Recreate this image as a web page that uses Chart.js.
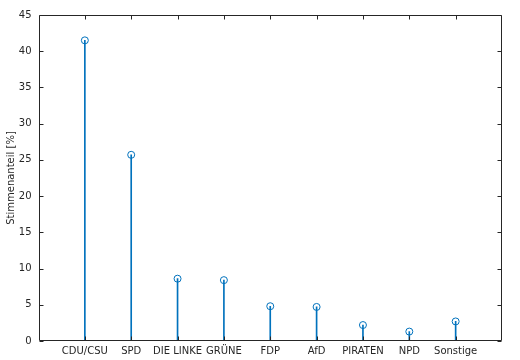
<!DOCTYPE html>
<html><head><meta charset="utf-8">
<script src="https://cdn.jsdelivr.net/npm/chart.js@4"></script>
<style>html,body{margin:0;padding:0;background:#fff}#w{width:520px;height:360px}</style>
</head><body><div id="w"><canvas id="c" width="520" height="360"></canvas></div>
<script>
const categories = ["CDU/CSU","SPD","DIE LINKE","GRÜNE","FDP","AfD","PIRATEN","NPD","Sonstige"];
const shares = [41.5, 25.7, 8.6, 8.4, 4.8, 4.7, 2.2, 1.3, 2.7];
const yTicks = [0,5,10,15,20,25,30,35,40,45];

const blue = '#0072BD', ink = '#262626';
const pts = categories.map((c,i)=>({x:i+1,y:shares[i]}));

const frame = {
  id:'frame',
  afterDraw(chart){
    const {ctx, chartArea:a, scales:{x,y}} = chart;
    ctx.save();
    ctx.strokeStyle = ink; ctx.lineWidth = 1;
    ctx.beginPath();
    const L=Math.round(a.left)+0.5, R=Math.round(a.right)-0.5, T=Math.round(a.top)+0.5, B=Math.round(a.bottom)-0.5;
    ctx.rect(L,T,R-L,B-T);
    const tl=4;
    categories.forEach((c,i)=>{const px=Math.round(x.getPixelForValue(i+1))+0.5;
      ctx.moveTo(px,B);ctx.lineTo(px,B-tl);ctx.moveTo(px,T);ctx.lineTo(px,T+tl);});
    yTicks.forEach(v=>{const py=Math.round(y.getPixelForValue(v))+0.5;
      ctx.moveTo(L,py);ctx.lineTo(L+tl,py);ctx.moveTo(R,py);ctx.lineTo(R-tl,py);});
    ctx.stroke();
    ctx.restore();
  }
};

new Chart(document.getElementById('c'),{
  data:{datasets:[
    {type:'bar',data:pts,backgroundColor:blue,borderWidth:0,barThickness:1,order:2},
    {type:'scatter',data:pts,pointStyle:'circle',pointRadius:3.5,pointBorderWidth:1,pointBorderColor:blue,pointBackgroundColor:'rgba(0,0,0,0)',showLine:false,order:1}
  ]},
  options:{
    responsive:false,animation:false,
    layout:{padding:{left:0,top:15,right:18,bottom:0}},
    plugins:{legend:{display:false},tooltip:{enabled:false}},
    scales:{
      x:{type:'linear',min:0,max:10,offset:false,
        afterBuildTicks(s){s.ticks=categories.map((c,i)=>({value:i+1}));},
        afterFit(s){s.height=19;},
        grid:{display:false,drawTicks:false},border:{display:false},
        ticks:{autoSkip:false,maxRotation:0,padding:4,color:ink,font:{family:'DejaVu Sans',size:10},
          callback:(v)=>categories[v-1]}},
      y:{type:'linear',min:0,max:45,
        afterBuildTicks(s){s.ticks=yTicks.map(v=>({value:v}));},
        afterFit(s){s.width=38.5;},
        grid:{display:false,drawTicks:false},border:{display:false},
        title:{display:true,text:'Stimmenanteil [%]',color:ink,font:{family:'DejaVu Sans',size:10},padding:{top:5,bottom:0}},
        ticks:{padding:7,color:ink,font:{family:'DejaVu Sans',size:10}}}
    }
  },
  plugins:[frame]
});
</script></body></html>
